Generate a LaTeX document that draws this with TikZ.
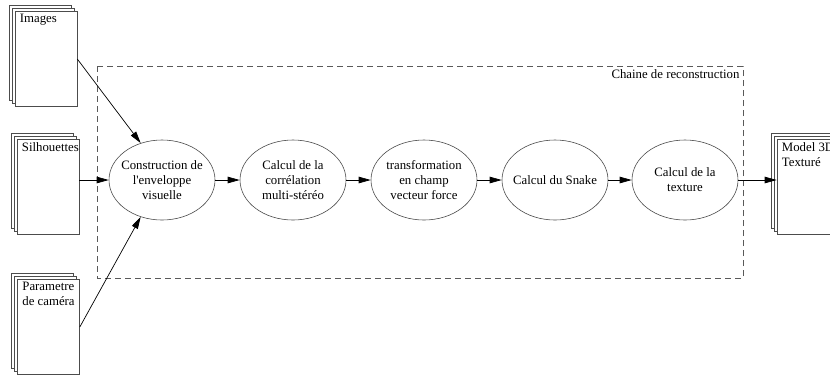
\documentclass[tikz,border=0pt]{standalone}
\usepackage{fontspec}
\setmainfont{Liberation Serif}
\usepackage{tikz}
\usetikzlibrary{positioning,shapes.geometric,arrows.meta,shadows}

\begin{document}
\begin{tikzpicture}[x=1pt, y=-1pt, font=\fontsize{12.8}{15}\selectfont]
        \tikzset{
          etape/.style={ellipse, draw=black!70, fill=white, line width=0.6pt,
                        minimum width=106pt, minimum height=80pt, inner sep=-12pt,
                        align=center},
          doc/.style={rectangle, draw=black!70, fill=white, line width=0.6pt,
                      minimum width=62pt, minimum height=95pt, inner sep=0pt,
                      double copy shadow={shadow xshift=-3pt, shadow yshift=3pt,
                                          draw=black!70, fill=white, line width=0.6pt}},
          doclabel/.style={anchor=north west, align=left, inner xsep=5pt, inner ysep=3pt},
          fleche/.style={draw=black, line width=0.7pt,
                         -{Triangle[length=12pt, width=6.5pt]}},
          cluster/.style={draw=black!65, line width=0.7pt, dash pattern=on 6pt off 4pt}
        }
        \useasboundingbox (0,0) rectangle (830,376);
        % Chaine de reconstruction
        \draw[cluster] (97,66) rectangle (743,278);
        \node[anchor=north east] (chaine) at (743,66) {Chaine de reconstruction};
        % Documents d'entree
        \node[doc, label={[doclabel]north west:Images}] (img) at (46,59) {};
        \node[doc, label={[doclabel]north west:Silhouettes}] (sil) at (48,187) {};
        \node[doc, label={[doclabel]north west:Parametre\\de caméra}] (cam) at (48.5,327) {};
        % Document de sortie
        \node[doc, label={[doclabel]north west:Model 3D\\Texturé}] (model) at (808,187) {};
        % Etapes
        \node[etape] (E1) at (162,180) {Construction de\\l\textquotesingle enveloppe\\visuelle};
        \node[etape] (E2) at (293,180) {Calcul de la\\corrélation\\multi-stéréo};
        \node[etape] (E3) at (424,180) {transformation\\en champ\\vecteur force};
        \node[etape] (E4) at (555,180) {Calcul du Snake};
        \node[etape] (E5) at (685,180) {Calcul de la\\texture};
        % Fleches
        \draw[fleche] (img.east) -- (E1.120);
        \draw[fleche] (sil.east |- E1.west) -- (E1.west);
        \draw[fleche] (cam.east) -- (E1.240);
        \foreach \i/\j in {1/2,2/3,3/4,4/5} {
          \draw[fleche] (E\i) -- (E\j);
        }
        \draw[fleche] (E5.east) -- (model.west |- E5.east);
\end{tikzpicture}
\end{document}
